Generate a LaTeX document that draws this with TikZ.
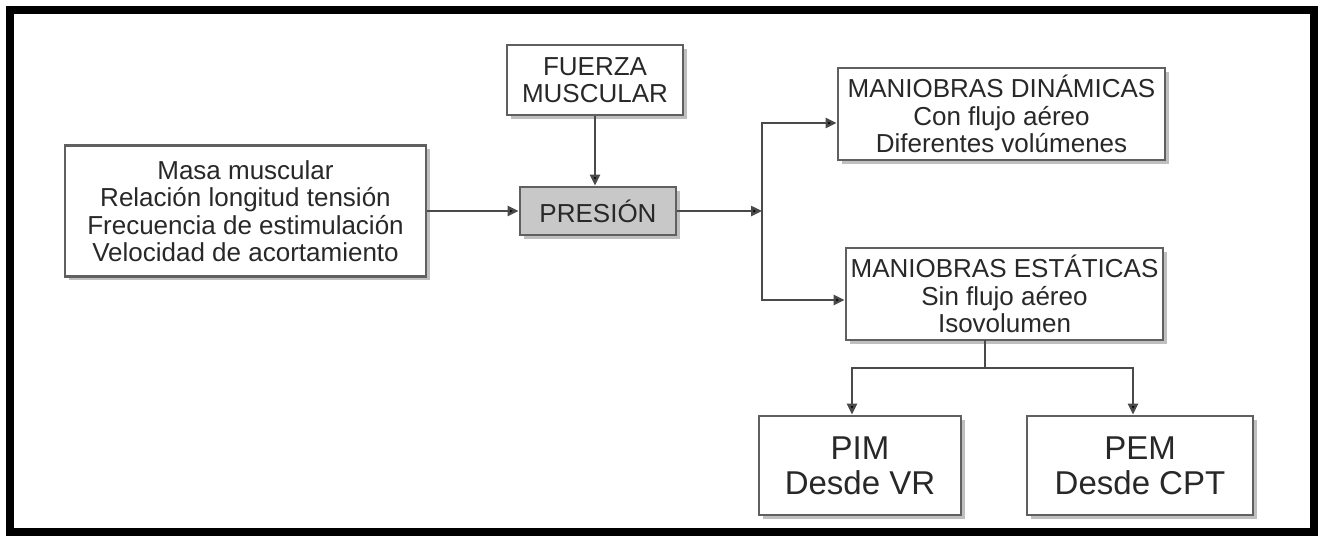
\documentclass[tikz,border=0pt]{standalone}
\usepackage{fontspec}
\setmainfont{Liberation Sans}
\usetikzlibrary{shadows,arrows.meta}
\definecolor{txt}{HTML}{282828}
\definecolor{bord}{HTML}{606060}
\definecolor{ln}{HTML}{4A4A4A}
\definecolor{presgray}{HTML}{C8C8C8}
\begin{document}
\begin{tikzpicture}[x=1pt,y=-1pt,
  box/.style={draw=bord, line width=2.8pt, fill=white, inner sep=0pt, align=center, text=txt,
    font=\fontsize{26}{27.5}\selectfont,
    drop shadow={shadow xshift=3.5pt, shadow yshift=-3.5pt, fill=black!25, opacity=1}},
  bigtext/.style={font=\fontsize{33}{35}\selectfont},
  conn/.style={draw=ln, line width=2.4pt, -{Triangle[length=11pt,width=10pt,fill=black]}},
  plain/.style={draw=ln, line width=2.4pt, line cap=rect}]
\useasboundingbox (0,0) rectangle (1323,536);
\draw[line width=8pt] (9.5,10) rectangle (1313.5,532);

\node[box, minimum width=361pt, minimum height=131pt] (left) at (245.5,211)
  {Masa muscular\\Relación longitud tensión\\Frecuencia de estimulación\\Velocidad de acortamiento};
\node[box, minimum width=176pt, minimum height=70pt] (fuerza) at (595,80) {FUERZA\\MUSCULAR};
\node[box, fill=presgray, minimum width=156pt, minimum height=48pt] (pres) at (598,211) {PRESIÓN};
\node[box, minimum width=327pt, minimum height=92pt] (din) at (1001.5,114)
  {MANIOBRAS DINÁMICAS\\Con flujo aéreo\\Diferentes volúmenes};
\node[box, minimum width=317pt, minimum height=92pt] (est) at (1004.5,294)
  {MANIOBRAS ESTÁTICAS\\Sin flujo aéreo\\Isovolumen};
\node[box, bigtext, minimum width=202pt, minimum height=99pt] (pim) at (860,465.5) {PIM\\Desde VR};
\node[box, bigtext, minimum width=226pt, minimum height=99pt] (pem) at (1140,465.5) {PEM\\Desde CPT};

\coordinate (j) at (762,211);
\coordinate (jt) at (762,123);
\coordinate (jb) at (762,300);
\coordinate (s) at (985,368);
\coordinate (sl) at (852,368);
\coordinate (sr) at (1133,368);

\draw[conn] (left.east) -- (pres.west);
\draw[conn] (fuerza.south) -- (fuerza.south |- pres.north);
\draw[conn] (pres.east) -- (j);
\draw[plain] (jt) -- (jb);
\draw[conn] (jt) -- (jt -| din.west);
\draw[conn] (jb) -- (jb -| est.west);
\draw[plain] (s |- est.south) -- (s);
\draw[plain] (sl) -- (sr);
\draw[conn] (sl) -- (sl |- pim.north);
\draw[conn] (sr) -- (sr |- pem.north);
\end{tikzpicture}
\end{document}
